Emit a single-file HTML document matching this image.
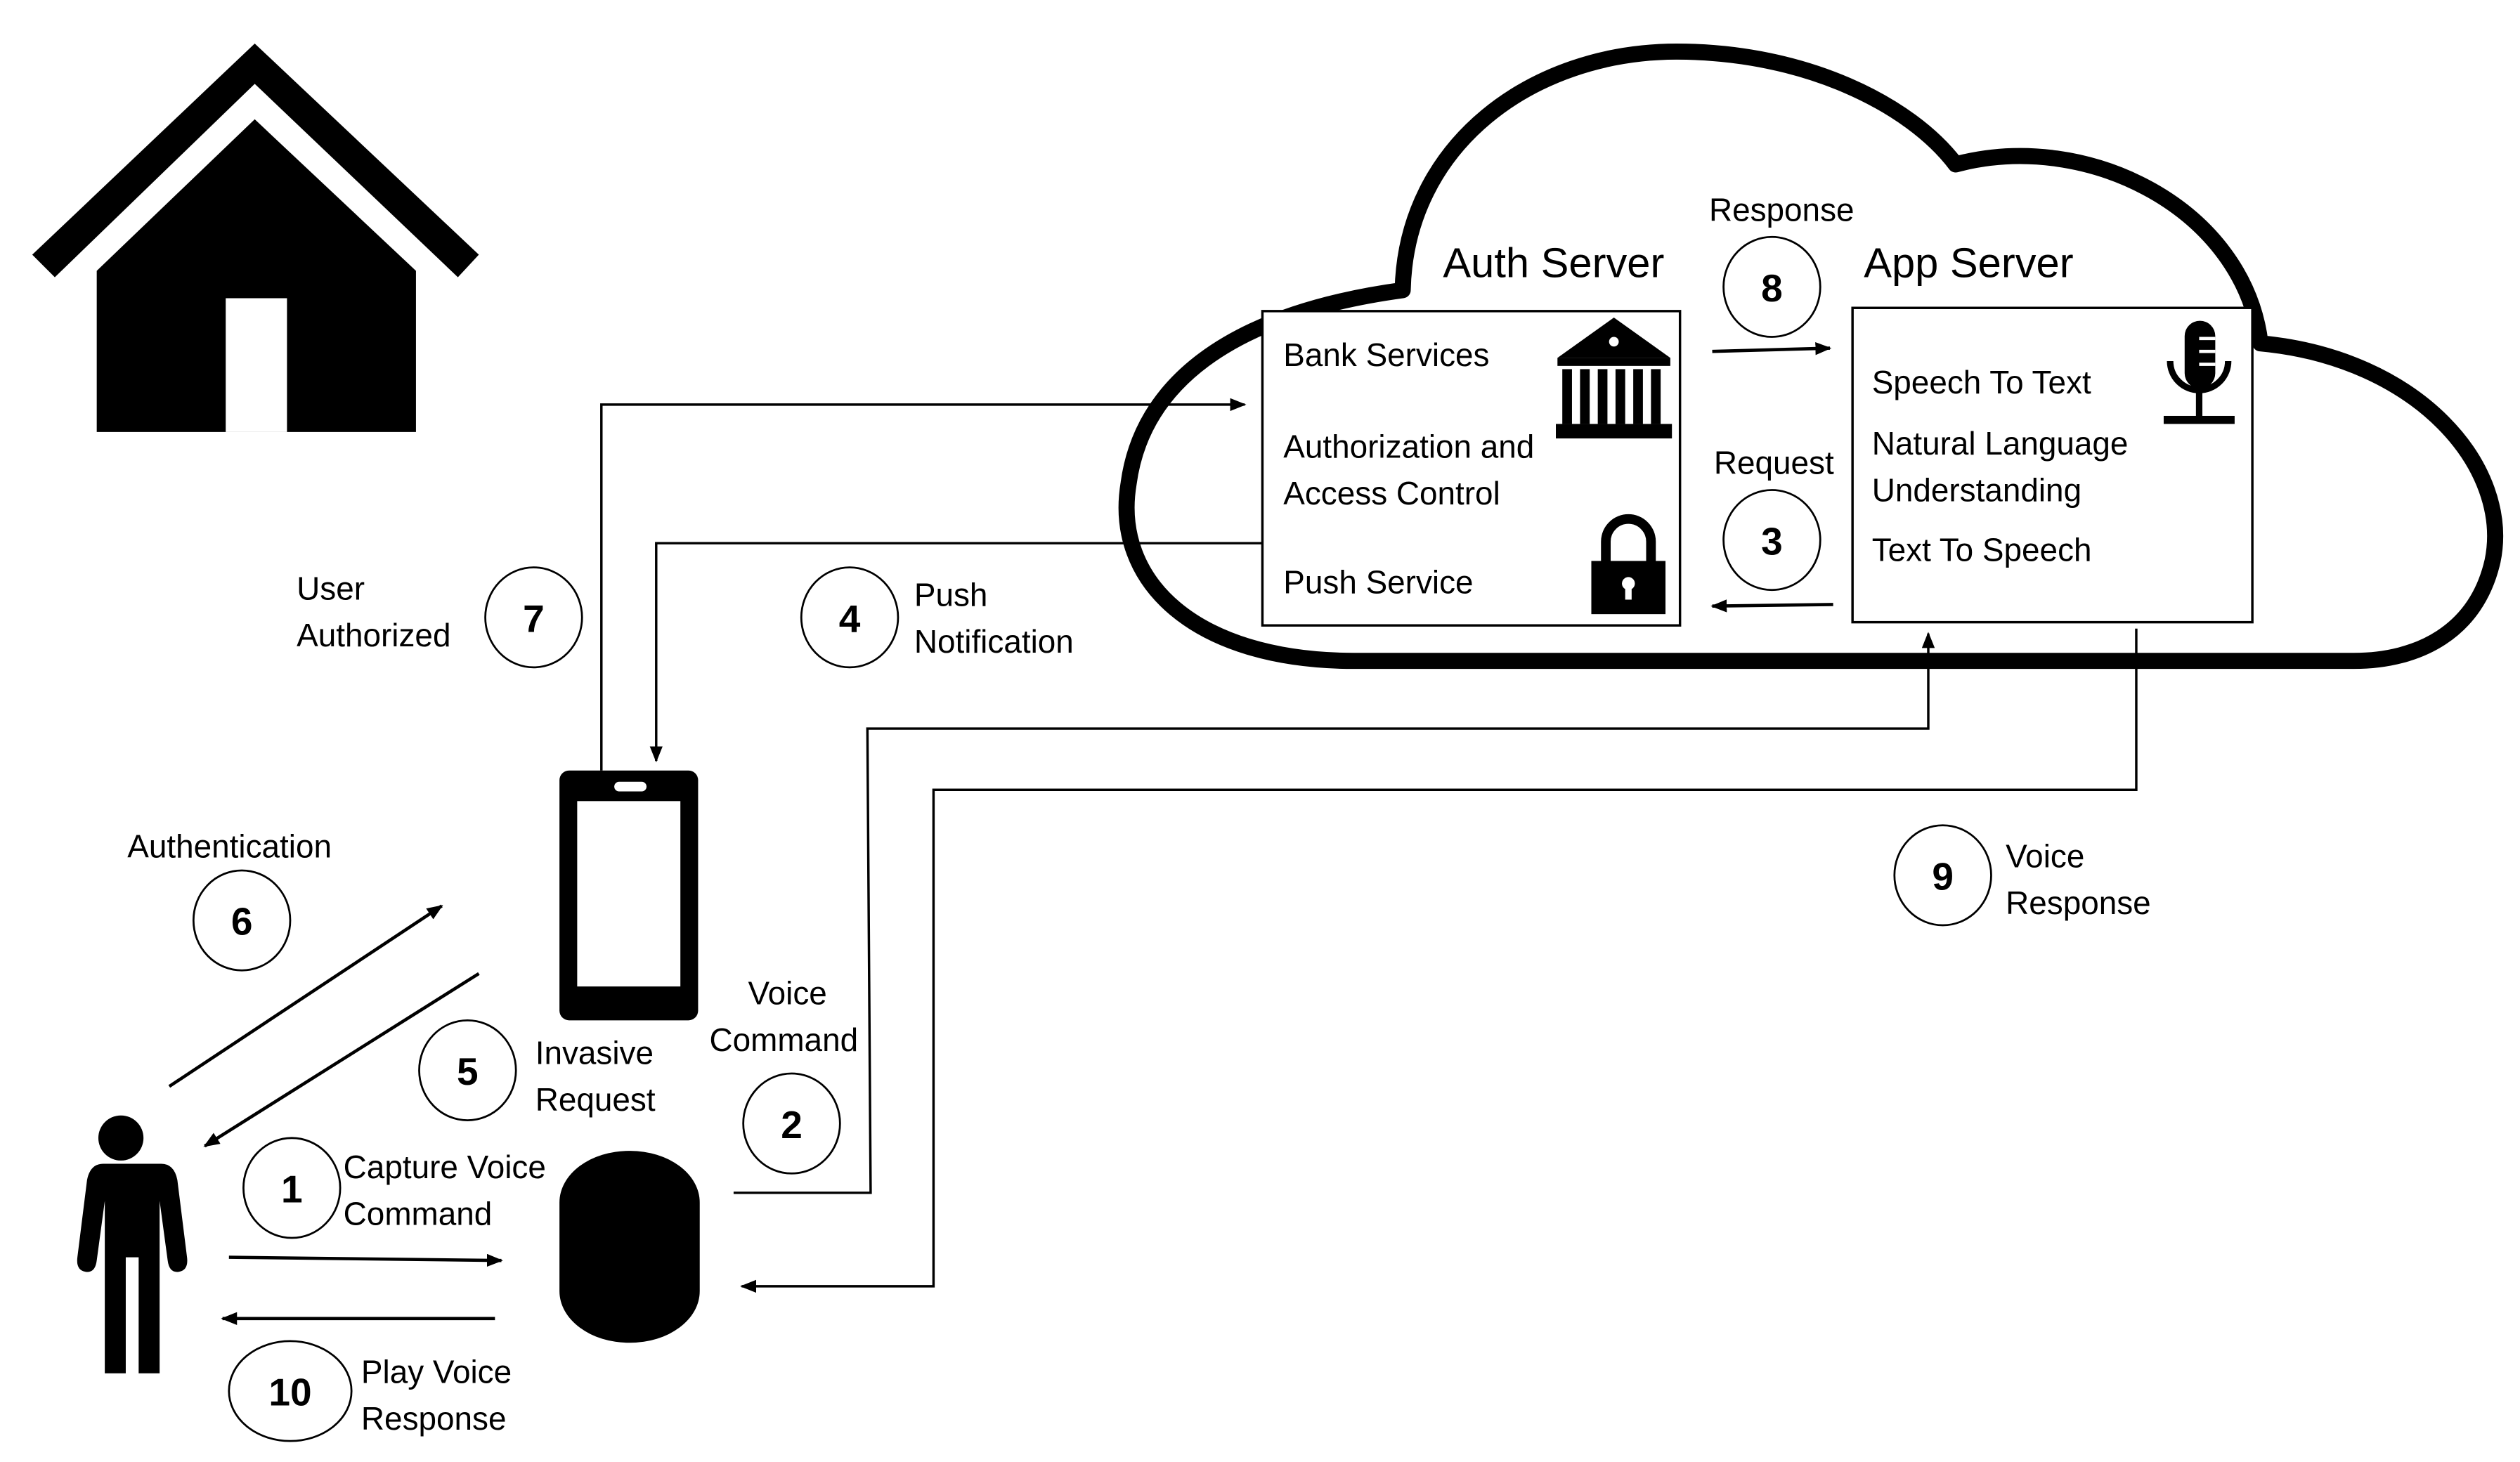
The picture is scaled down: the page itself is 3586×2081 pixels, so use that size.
<!DOCTYPE html>
<html><head><meta charset="utf-8"><style>html,body{margin:0;padding:0;background:#fff}svg{display:block}</style></head>
<body>
<svg width="3586" height="2081" viewBox="0 0 1563 907" xmlns="http://www.w3.org/2000/svg" font-family="Liberation Sans, sans-serif">
<defs>
<marker id="ar" markerWidth="10" markerHeight="8" refX="9" refY="4" orient="auto" markerUnits="userSpaceOnUse"><path d="M0,0 L10,4 L0,8 Z" fill="#000"/></marker>
</defs>
<rect width="1563" height="907" fill="#fff"/>
<!-- house -->
<polygon points="20,158 158,27 297,158 284,172 158,52 34,172" fill="#000"/>
<polygon points="60,268 60,168 158,74 258,168 258,268" fill="#000"/>
<rect x="140" y="185" width="38" height="83" fill="#fff"/>
<!-- cloud -->
<path d="M840 410 C740 410 690 360 700 300 C708 240 760 195 870 180 C872 90 950 32 1040 32 C1120 32 1185 65 1213 102 C1295 80 1392 130 1402 213 C1500 222 1558 290 1546 348 C1536 392 1500 410 1460 410 Z" fill="none" stroke="#000" stroke-width="10" stroke-linejoin="round"/>
<!-- boxes -->
<rect x="783" y="193" width="259" height="195" fill="#fff" stroke="#000" stroke-width="1.5"/>
<rect x="1149" y="191" width="248" height="195" fill="#fff" stroke="#000" stroke-width="1.5"/>
<!-- bank icon -->
<g fill="#000">
<polygon points="1001,197 1036,222 966,222"/>
<rect x="966" y="222" width="70" height="5"/>
<rect x="969" y="229" width="6" height="34"/><rect x="980" y="229" width="6" height="34"/><rect x="991" y="229" width="6" height="34"/><rect x="1002" y="229" width="6" height="34"/><rect x="1013" y="229" width="6" height="34"/><rect x="1024" y="229" width="6" height="34"/>
<rect x="965" y="263" width="72" height="9"/>
</g>
<circle cx="1001" cy="212" r="3" fill="#fff"/>
<!-- lock -->
<path d="M996 350 V336 A14 14 0 0 1 1024 336 V350" fill="none" stroke="#000" stroke-width="6"/>
<rect x="987" y="348" width="46" height="33" fill="#000"/>
<circle cx="1010" cy="362" r="4" fill="#fff"/><rect x="1008" y="363" width="4" height="9" fill="#fff"/>
<!-- mic -->
<rect x="1355" y="199" width="19" height="42" rx="9.5" fill="#000"/>
<path d="M1346 224 A18 18 0 0 0 1382 224" fill="none" stroke="#000" stroke-width="4"/>
<rect x="1362" y="242" width="4" height="17" fill="#000"/>
<rect x="1342" y="258" width="44" height="5" fill="#000"/>
<g stroke="#fff" stroke-width="2"><line x1="1364" y1="210" x2="1374" y2="210"/><line x1="1364" y1="218" x2="1374" y2="218"/><line x1="1364" y1="226" x2="1374" y2="226"/></g>
<!-- phone -->
<rect x="347" y="478" width="86" height="155" rx="6" fill="#000"/>
<rect x="358" y="497" width="64" height="115" fill="#fff"/>
<rect x="381" y="485" width="20" height="6" rx="3" fill="#fff"/>
<!-- speaker -->
<rect x="347" y="714" width="87" height="119" rx="43" ry="32" fill="#000"/>
<!-- person -->
<circle cx="75" cy="706" r="14" fill="#000"/>
<path d="M50 722 H100 Q108 722 110 732 L116 780 Q117 788 111 789 Q105 790 104 782 L99 745 V852 H86 V780 H78 V852 H65 V745 L60 782 Q59 790 53 789 Q47 788 48 780 L54 732 Q56 722 64 722 Z" fill="#000"/>
<!-- connectors -->
<g fill="none" stroke="#000" stroke-width="1.5">
<polyline points="373,478 373,251 772,251" marker-end="url(#ar)"/>
<polyline points="783,337 407,337 407,472" marker-end="url(#ar)"/>
<polyline points="455,740 540,740 538,452 1196,452 1196,393" marker-end="url(#ar)"/>
<polyline points="1325,390 1325,490 579,490 579,798 460,798" marker-end="url(#ar)"/>
</g>
<g stroke="#000" stroke-width="2">
<line x1="1062" y1="218" x2="1135" y2="216" marker-end="url(#ar)"/>
<line x1="1137" y1="375" x2="1062" y2="376" marker-end="url(#ar)"/>
<line x1="105" y1="674" x2="274" y2="562" marker-end="url(#ar)"/>
<line x1="297" y1="604" x2="127" y2="711" marker-end="url(#ar)"/>
<line x1="142" y1="780" x2="311" y2="782" marker-end="url(#ar)"/>
<line x1="307" y1="818" x2="138" y2="818" marker-end="url(#ar)"/>
</g>
<!-- circles -->
<g fill="#fff" stroke="#000" stroke-width="1.2">
<ellipse cx="1099" cy="178" rx="30" ry="31"/>
<ellipse cx="1099" cy="335" rx="30" ry="31"/>
<ellipse cx="331" cy="383" rx="30" ry="31"/>
<ellipse cx="527" cy="383" rx="30" ry="31"/>
<ellipse cx="150" cy="571" rx="30" ry="31"/>
<ellipse cx="290" cy="664" rx="30" ry="31"/>
<ellipse cx="491" cy="697" rx="30" ry="31"/>
<ellipse cx="181" cy="737" rx="30" ry="31"/>
<ellipse cx="180" cy="863" rx="38" ry="31"/>
<ellipse cx="1205" cy="543" rx="30" ry="31"/>
</g>
<g font-weight="bold" font-size="24" text-anchor="middle">
<text x="1099" y="187">8</text><text x="1099" y="344">3</text><text x="331" y="392">7</text><text x="527" y="392">4</text><text x="150" y="580">6</text><text x="290" y="673">5</text><text x="491" y="706">2</text><text x="181" y="746">1</text><text x="180" y="872">10</text><text x="1205" y="552">9</text>
</g>
<g font-size="26"><text x="895" y="172">Auth Server</text><text x="1156" y="172">App Server</text></g>
<g font-size="20">
<text x="1060" y="137">Response</text>
<text x="796" y="227">Bank Services</text>
<text x="796" y="284">Authorization and</text>
<text x="796" y="313">Access Control</text>
<text x="796" y="368">Push Service</text>
<text x="1161" y="244">Speech To Text</text>
<text x="1161" y="282">Natural Language</text>
<text x="1161" y="311">Understanding</text>
<text x="1161" y="348">Text To Speech</text>
<text x="1063" y="294">Request</text>
<text x="184" y="372">User</text><text x="184" y="401">Authorized</text>
<text x="567" y="376">Push</text><text x="567" y="405">Notification</text>
<text x="79" y="532">Authentication</text>
<text x="464" y="623">Voice</text><text x="440" y="652">Command</text>
<text x="332" y="660">Invasive</text><text x="332" y="689">Request</text>
<text x="213" y="731">Capture Voice</text><text x="213" y="760">Command</text>
<text x="224" y="858">Play Voice</text><text x="224" y="887">Response</text>
<text x="1244" y="538">Voice</text><text x="1244" y="567">Response</text>
</g>
</svg>
</body></html>
